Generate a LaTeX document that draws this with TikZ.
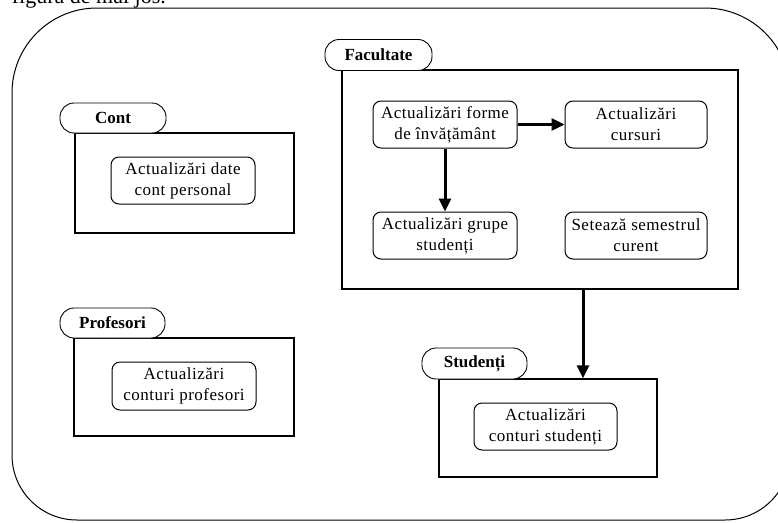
\documentclass[tikz,border=0pt]{standalone}
\usepackage{fontspec}
\setmainfont{Liberation Serif}
\newfontfamily\boxfont[LetterSpace=3]{Liberation Serif}
\usetikzlibrary{arrows.meta,calc}
\begin{document}
\begin{tikzpicture}[x=1pt,y=-1pt,
  tab/.style={draw,line width=0.9pt,rounded corners=14pt,fill=white,inner sep=0pt,
    font=\fontsize{17}{20}\selectfont\bfseries},
  pkg/.style={draw,line width=1.4pt,inner sep=0pt},
  act/.style={draw,line width=1pt,rounded corners=8pt,inner sep=0pt,align=center,
    font=\boxfont\fontsize{17}{21}\selectfont},
  arr/.style={line width=3pt,-{Triangle[length=13pt,width=12pt]}}]
\useasboundingbox (0,0) rectangle (778,522);
\clip (0,0) rectangle (778,522);
% partially visible line of text at the top
\node[anchor=base east,inner sep=0pt,font=\fontsize{22}{26}\selectfont] (toptext) at (166,4) {figura de mai jos.};
% outer frame
\draw[line width=1pt] (12,457) -- (12,93) .. controls (12,46) and (50,8) .. (97,8)
  -- (705,8) .. controls (752,8) and (790,46) .. (790,93)
  -- (790,455) .. controls (790,491) and (761,520) .. (725,520)
  -- (77,520) .. controls (41,520) and (12,491) .. (12,455) -- cycle;
% Cont
\node[pkg,minimum width=219pt,minimum height=100pt] (contbox) at (184.5,183) {};
\node[tab,minimum width=106pt,minimum height=30pt] (conttab) at (113,118) {Cont};
\node[act,minimum width=144pt,minimum height=47pt] (contact) at (183,180.5) {Actualizări date\\cont personal};
% Profesori
\node[pkg,minimum width=220pt,minimum height=98pt] (profbox) at (184,387) {};
\node[tab,minimum width=105pt,minimum height=30pt] (proftab) at (112.5,323) {Profesori};
\node[act,minimum width=144pt,minimum height=48pt] (profact) at (184,386) {Actualizări\\conturi profesori};
% Facultate
\node[pkg,minimum width=396pt,minimum height=219pt] (facbox) at (540,179.5) {};
\node[tab,minimum width=107pt,minimum height=31pt] (factab) at (378.5,55) {Facultate};
\node[act,minimum width=144pt,minimum height=47pt] (forme) at (445,124.5) {Actualizări forme\\de învățământ};
\node[act,minimum width=142pt,minimum height=47pt] (cursuri) at (636,124.5) {Actualizări\\cursuri};
\node[act,minimum width=144pt,minimum height=47pt] (grupe) at (445,235.5) {Actualizări grupe\\studenți};
\node[act,minimum width=142pt,minimum height=47pt] (semestru) at (636,235.5) {Setează semestrul\\curent};
% Studenti
\node[pkg,minimum width=218pt,minimum height=98pt] (studbox) at (548,428) {};
\node[tab,minimum width=105pt,minimum height=31pt] (studtab) at (474.5,363.5) {Studenți};
\node[act,minimum width=143pt,minimum height=47pt] (studact) at (545.5,426.5) {Actualizări\\conturi studenți};
% connectors
\coordinate (studx) at (583,0);
\draw[arr] (forme.east) -- (cursuri.west);
\draw[arr] (forme.south) -- (grupe.north);
\draw[arr] (facbox.south -| studx) -- (studbox.north -| studx);
\end{tikzpicture}
\end{document}
